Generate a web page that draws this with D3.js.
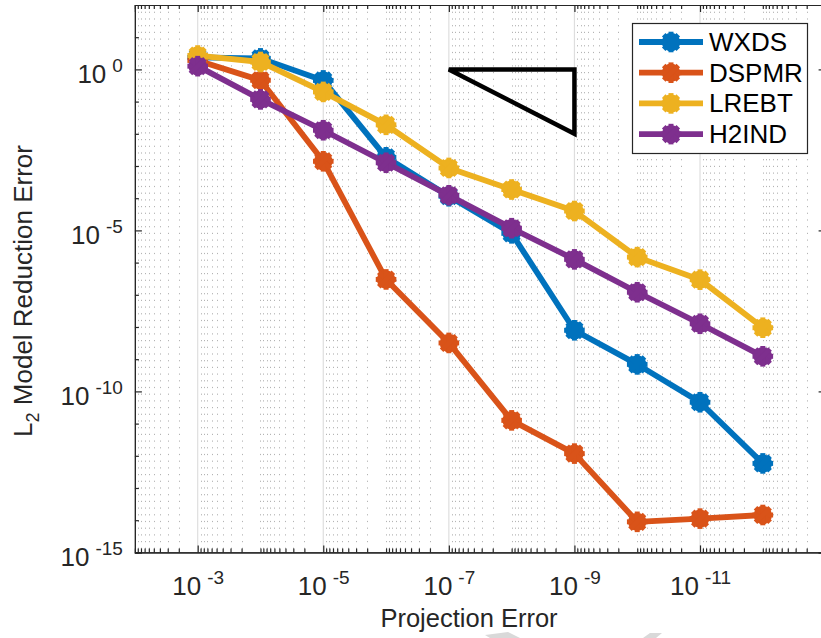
<!DOCTYPE html>
<html>
<head>
<meta charset="utf-8">
<script src="https://cdn.jsdelivr.net/npm/d3@7"></script>
<style>
  body { margin: 0; background: #fff; }
  svg { display: block; font-family: 'Liberation Sans', Arial, Helvetica, sans-serif; }
</style>
</head>
<body>
<div id="chart"></div>
<script>
// projection error (x) for every run
var projErr = [1e-3, 1e-4, 1e-5, 1e-6, 1e-7, 1e-8, 1e-9, 1e-10, 1e-11, 1e-12]
// L2 model reduction error
var wxds = [2.36, 2.2, 0.455, 1.86e-3, 1.15e-4, 8.1e-6, 7.9e-9, 6.9e-10, 4.6e-11, 5.8e-13]
var dspmr = [1.9, 0.46, 1.4e-3, 3.0e-7, 3.2e-9, 1.26e-11, 1.17e-12, 8.9e-15, 1.12e-14, 1.45e-14]
var lrebt = [2.7, 1.7, 0.2, 1.9e-2, 8.7e-4, 1.86e-4, 4.0e-5, 1.48e-6, 2.95e-7, 9.5e-9]
var h2ind = [1.26, 0.117, 1.29e-2, 1.26e-3, 1.23e-4, 1.17e-5, 1.26e-6, 1.2e-7, 1.26e-8, 1.23e-9]
var seriesNames = ['WXDS', 'DSPMR', 'LREBT', 'H2IND']
var colors = ['#0072BD', '#D95319', '#EDB120', '#7E2F8E']
// slope triangle
var triX = [1e-7, 1e-9, 1e-9]
var triY = [1, 1, 1e-2]
// ticks
var xMajor = [1e-3, 1e-5, 1e-7, 1e-9, 1e-11]
var yMajor = [1, 1e-5, 1e-10, 1e-15]

var width = 821
var height = 638
var pLeft = 134.9
var pRight = 825.6
var pTop = 5
var pBottom = 552.4

var svg = d3.select('#chart')
  .append('svg')
  .attr('width', width)
  .attr('height', height)

var x = d3.scaleLog().domain([1e-2, 1e-13]).range([pLeft, pRight])
var y = d3.scaleLog().domain([1e2, 1e-15]).range([pTop, pBottom])

// minor tick positions: 2..9 in each decade plus the unlabeled decades
var xMinor = []
for (var e = -13; e < -2; e++) {
  for (var m = 1; m < 10; m++) {
    var v = m * Math.pow(10, e)
    if (m === 1 && e % 2 !== 0) continue
    if (m === 1 && e === -13) continue
    xMinor.push(v)
  }
}
var yMinor = []
for (var k = -14; k <= 1; k++) {
  if (k % 5 !== 0) yMinor.push(Math.pow(10, k))
}

// grid
var grid = svg.append('g')
grid.selectAll('line.minor')
  .data(xMinor)
  .enter()
  .append('line')
  .attr('class', 'minor')
  .attr('x1', function (d) { return Math.round(x(d)) + 0.5 })
  .attr('x2', function (d) { return Math.round(x(d)) + 0.5 })
  .attr('y1', pTop)
  .attr('y2', pBottom)
  .attr('stroke', '#b4b4b4')
  .attr('stroke-width', 1)
  .attr('stroke-dasharray', '1.2,5.5')
grid.selectAll('line.major')
  .data(xMajor)
  .enter()
  .append('line')
  .attr('class', 'major')
  .attr('x1', function (d) { return x(d) })
  .attr('x2', function (d) { return x(d) })
  .attr('y1', pTop)
  .attr('y2', pBottom)
  .attr('stroke', '#dedede')
  .attr('stroke-width', 1.2)

// axes
var axisColor = '#262626'
function styleAxis (g) {
  g.select('.domain').attr('stroke', axisColor).attr('stroke-width', 1.2)
  g.selectAll('.tick line').attr('stroke', axisColor).attr('stroke-width', 1.2)
}
function supLabel (text, d) {
  var ex = Math.round(Math.log10(d))
  text.text(null)
  text.append('tspan').text('10')
  text.append('tspan')
    .attr('dx', 6)
    .attr('dy', -11)
    .attr('font-size', 19)
    .text(String(ex))
}

var gx = svg.append('g')
  .attr('transform', 'translate(0,' + pBottom + ')')
  .call(d3.axisBottom(x).tickValues(xMinor).tickSize(-4).tickFormat(''))
styleAxis(gx)
var gxMaj = svg.append('g')
  .attr('transform', 'translate(0,' + pBottom + ')')
  .call(d3.axisBottom(x).tickValues(xMajor).tickSize(-7).tickSizeOuter(0))
styleAxis(gxMaj)
gxMaj.selectAll('.tick text')
  .attr('y', 43)
  .attr('dy', 0)
  .attr('font-size', 26)
  .attr('fill', axisColor)
  .attr('font-family', "'Liberation Sans', Arial, sans-serif")
  .each(function (d) { supLabel(d3.select(this), d) })

var gxTop = svg.append('g')
  .attr('transform', 'translate(0,' + pTop + ')')
  .call(d3.axisTop(x).tickValues(xMinor).tickSize(-4).tickFormat(''))
styleAxis(gxTop)
var gxTopMaj = svg.append('g')
  .attr('transform', 'translate(0,' + pTop + ')')
  .call(d3.axisTop(x).tickValues(xMajor).tickSize(-7).tickFormat(''))
styleAxis(gxTopMaj)

var gy = svg.append('g')
  .attr('transform', 'translate(' + pLeft + ',0)')
  .call(d3.axisLeft(y).tickValues(yMinor).tickSize(-4).tickFormat(''))
styleAxis(gy)
var gyMaj = svg.append('g')
  .attr('transform', 'translate(' + pLeft + ',0)')
  .call(d3.axisLeft(y).tickValues(yMajor).tickSize(-7))
styleAxis(gyMaj)
gyMaj.selectAll('.tick text')
  .attr('x', -12)
  .attr('dy', 13)
  .attr('font-size', 26)
  .attr('fill', axisColor)
  .attr('font-family', "'Liberation Sans', Arial, sans-serif")
  .each(function (d) { supLabel(d3.select(this), d) })

var gyR = svg.append('g')
  .attr('transform', 'translate(' + pRight + ',0)')
  .call(d3.axisRight(y).tickValues(yMinor).tickSize(-4).tickFormat(''))
styleAxis(gyR)
var gyRMaj = svg.append('g')
  .attr('transform', 'translate(' + pRight + ',0)')
  .call(d3.axisRight(y).tickValues(yMajor).tickSize(-7).tickFormat(''))
styleAxis(gyRMaj)

// axis labels
svg.append('text')
  .attr('x', 469)
  .attr('y', 627)
  .attr('text-anchor', 'middle')
  .attr('font-size', 25.5)
  .attr('fill', axisColor)
  .text('Projection Error')

var yl = svg.append('text')
  .attr('transform', 'translate(32,291) rotate(-90)')
  .attr('text-anchor', 'middle')
  .attr('font-size', 26)
  .attr('fill', axisColor)
yl.append('tspan').text('L')
yl.append('tspan').attr('font-size', 18).attr('dy', 7).text('2')
yl.append('tspan').attr('dy', -7).text(' Model Reduction Error')

// slope triangle
var triPts = triX.map(function (d, i) { return [x(d), y(triY[i])] })
svg.append('path')
  .attr('d', d3.line()(triPts) + 'Z')
  .attr('fill', 'none')
  .attr('stroke', '#000')
  .attr('stroke-width', 4.5)
  .attr('stroke-linejoin', 'miter')

// marker: filled disc with a thick asterisk on top, gives the jagged blob
function marker (g, cx, cy, color) {
  g.append('circle')
    .attr('cx', cx)
    .attr('cy', cy)
    .attr('r', 9.2)
    .attr('fill', color)
  for (var a = 0; a < 4; a++) {
    var ang = a * Math.PI / 4
    var dx = Math.cos(ang) * 10.3
    var dy = Math.sin(ang) * 10.3
    g.append('line')
      .attr('x1', cx - dx)
      .attr('y1', cy - dy)
      .attr('x2', cx + dx)
      .attr('y2', cy + dy)
      .attr('stroke', color)
      .attr('stroke-width', 5)
  }
}

var allSeries = [wxds, dspmr, lrebt, h2ind]
var line = d3.line()
  .x(function (d) { return x(d[0]) })
  .y(function (d) { return y(d[1]) })

allSeries.forEach(function (vals, i) {
  var pts = projErr.map(function (p, j) { return [p, vals[j]] })
  var g = svg.append('g')
  g.append('path')
    .attr('d', line(pts))
    .attr('fill', 'none')
    .attr('stroke', colors[i])
    .attr('stroke-width', 5.8)
    .attr('stroke-linejoin', 'round')
  pts.forEach(function (d) {
    marker(g, x(d[0]), y(d[1]), colors[i])
  })
})

// legend
var lg = svg.append('g')
lg.append('rect')
  .attr('x', 632.5)
  .attr('y', 23.5)
  .attr('width', 175)
  .attr('height', 130)
  .attr('fill', '#fff')
  .attr('stroke', axisColor)
  .attr('stroke-width', 1.2)
seriesNames.forEach(function (name, i) {
  var ly = 42 + i * 30.7
  lg.append('line')
    .attr('x1', 639)
    .attr('x2', 703)
    .attr('y1', ly)
    .attr('y2', ly)
    .attr('stroke', colors[i])
    .attr('stroke-width', 5.8)
  marker(lg, 671, ly, colors[i])
  lg.append('text')
    .attr('x', 709)
    .attr('y', ly + 9)
    .attr('font-size', 26)
    .attr('fill', '#000')
    .text(name)
})

// faint watermark fragments at the bottom edge
svg.append('polygon')
  .attr('points', '485,635 508,632 520,638 490,638')
  .attr('fill', '#d9d9d9')
svg.append('polygon')
  .attr('points', '650,633 662,633 656,638 643,638')
  .attr('fill', '#d9d9d9')
</script>
</body>
</html>
